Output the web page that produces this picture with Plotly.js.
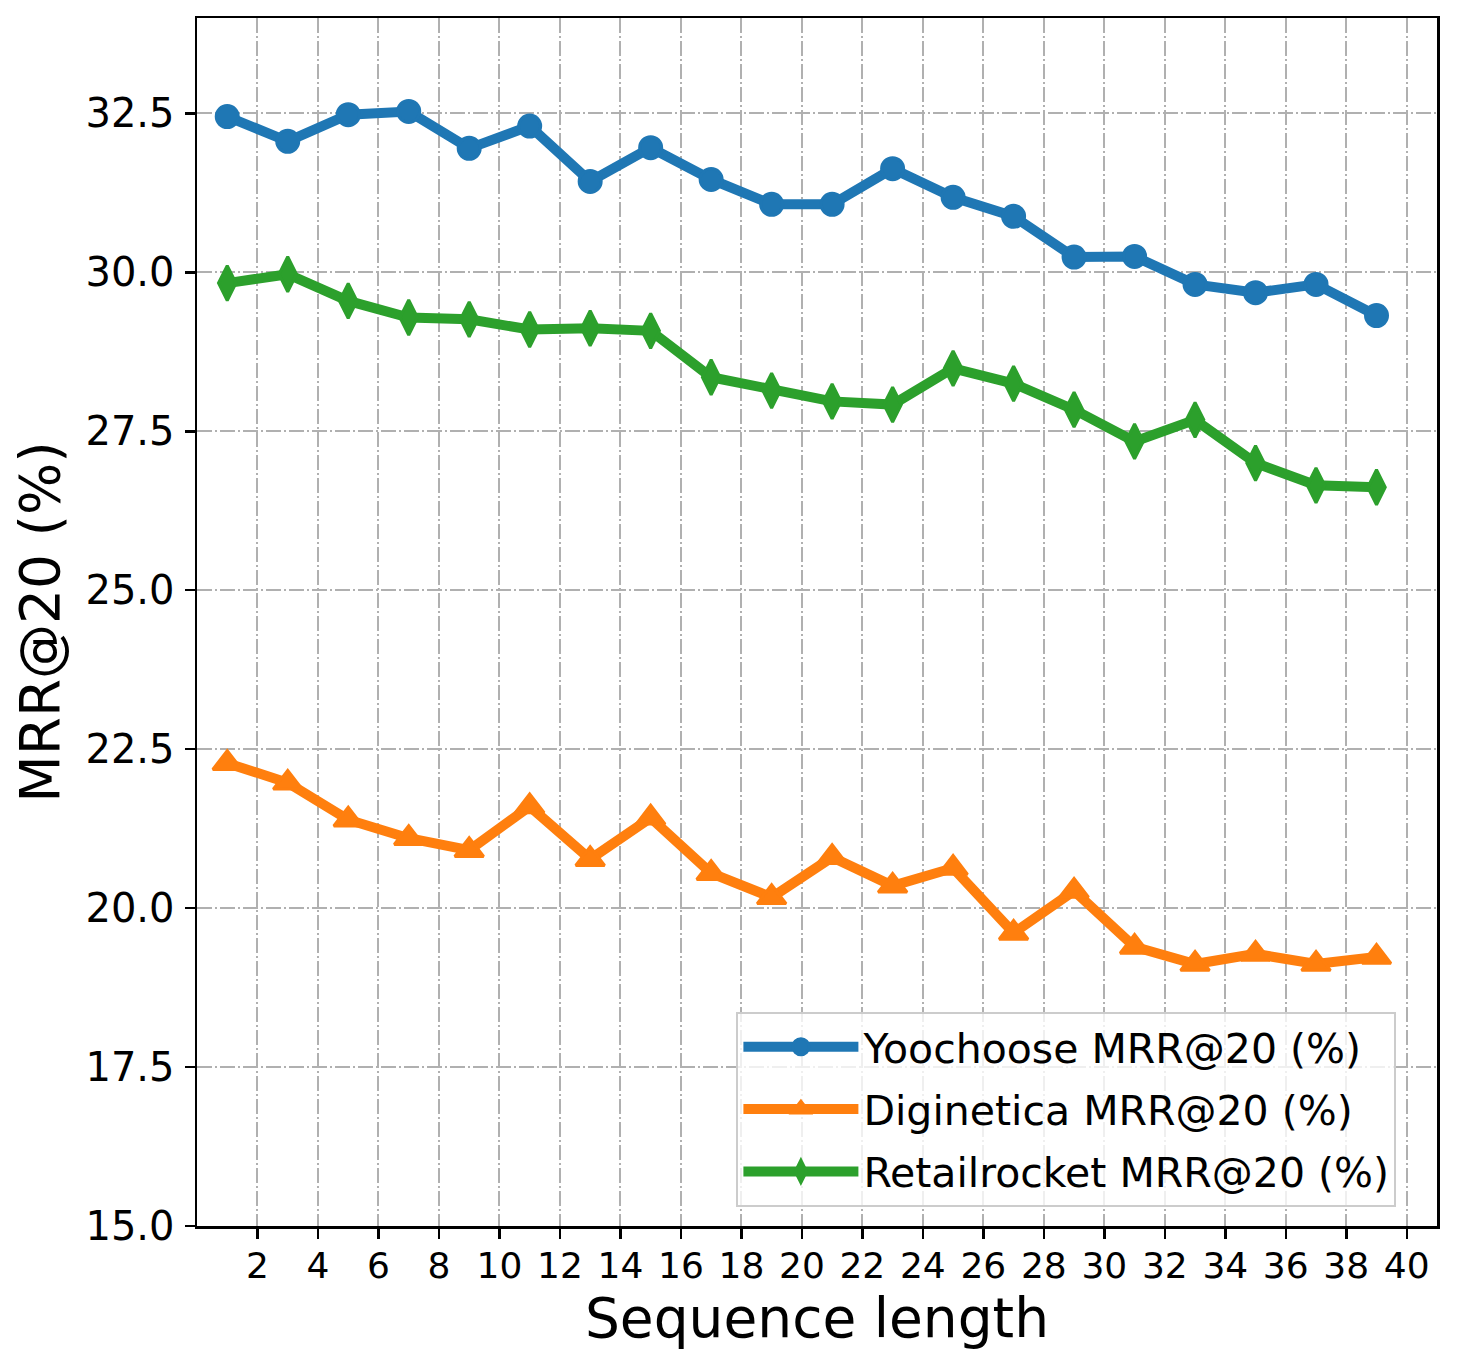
<!DOCTYPE html>
<html>
<head>
<meta charset="utf-8">
<script src="https://cdn.plot.ly/plotly-3.0.1.min.js"></script>
<style>
  body { margin: 0; background: #fff; }
  #plot { width: 1457px; height: 1366px; }
</style>
</head>
<body>
<div id="plot"></div>
<script>
var seqLen = [1, 3, 5, 7, 9, 11, 13, 15, 17, 19, 21, 23, 25, 27, 29, 31, 33, 35, 37, 39];

var yoochoose = [32.45, 32.06, 32.48, 32.53, 31.95, 32.30, 31.43, 31.96, 31.46, 31.07,
                 31.07, 31.63, 31.18, 30.88, 30.24, 30.25, 29.81, 29.68, 29.81, 29.32];
var diginetica = [22.28, 21.97, 21.39, 21.10, 20.91, 21.60, 20.77, 21.42, 20.55, 20.17,
                  20.80, 20.35, 20.63, 19.61, 20.27, 19.39, 19.12, 19.28, 19.12, 19.23];
var retailrocket = [29.83, 29.97, 29.55, 29.29, 29.26, 29.10, 29.12, 29.08, 28.35, 28.14,
                    27.97, 27.92, 28.49, 28.25, 27.84, 27.34, 27.68, 27.00, 26.65, 26.62];

var xTicks = [2, 4, 6, 8, 10, 12, 14, 16, 18, 20, 22, 24, 26, 28, 30, 32, 34, 36, 38, 40];
var yTicks = [15, 17.5, 20, 22.5, 25, 27.5, 30, 32.5];

function series(name, y, color, symbol, size) {
  return {
    x: seqLen,
    y: y,
    name: name,
    legendgroup: name,
    type: 'scatter',
    mode: 'lines+markers',
    line: {color: color, width: 10},
    marker: {color: color, symbol: symbol, size: size, line: {color: color, width: 3}}
  };
}

var data = [
  series('Yoochoose MRR@20 (%)', yoochoose, '#1f77b4', 'circle', 22),
  series('Diginetica MRR@20 (%)', diginetica, '#ff7f0e', 'triangle-up', 25),
  series('Retailrocket MRR@20 (%)', retailrocket, '#2ca02c', 'diamond-tall', 25)
];

var gridStyle = {
  showgrid: true,
  gridcolor: '#b0b0b0',
  gridwidth: 2,
  griddash: '15px,3px,2px,3px',
  showline: true,
  linecolor: '#000',
  linewidth: 2.5,
  mirror: true,
  ticks: 'outside',
  ticklen: 10,
  tickwidth: 2.5,
  tickcolor: '#000',
  zeroline: false
};

var layout = {
  width: 1457,
  height: 1366,
  margin: {l: 197, r: 20, t: 18, b: 140},
  paper_bgcolor: '#fff',
  plot_bgcolor: '#fff',
  font: {family: 'DejaVu Sans', color: '#000'},
  showlegend: true,
  xaxis: Object.assign({}, gridStyle, {
    range: [0, 41],
    tickmode: 'array',
    tickvals: xTicks,
    ticktext: xTicks.map(String),
    tickfont: {size: 36},
    ticklabelstandoff: -4,
    title: {text: 'Sequence length', font: {size: 55}, standoff: 12}
  }),
  yaxis: Object.assign({}, gridStyle, {
    range: [15, 34],
    tickmode: 'array',
    tickvals: yTicks,
    ticktext: yTicks.map(function (v) { return v.toFixed(1); }),
    tickfont: {size: 40},
    ticklabelstandoff: 2,
    title: {text: 'MRR@20 (%)', font: {size: 55}, standoff: 8}
  }),
  legend: {
    x: 0.435,
    y: 0.016,
    xanchor: 'left',
    yanchor: 'bottom',
    bgcolor: 'rgba(255,255,255,0.8)',
    bordercolor: '#cccccc',
    borderwidth: 2,
    font: {size: 41},
    itemsizing: 'trace',
    itemwidth: 115,
    tracegroupgap: 6
  }
};

Plotly.newPlot('plot', data, layout, {displayModeBar: false, staticPlot: true});
</script>
</body>
</html>
